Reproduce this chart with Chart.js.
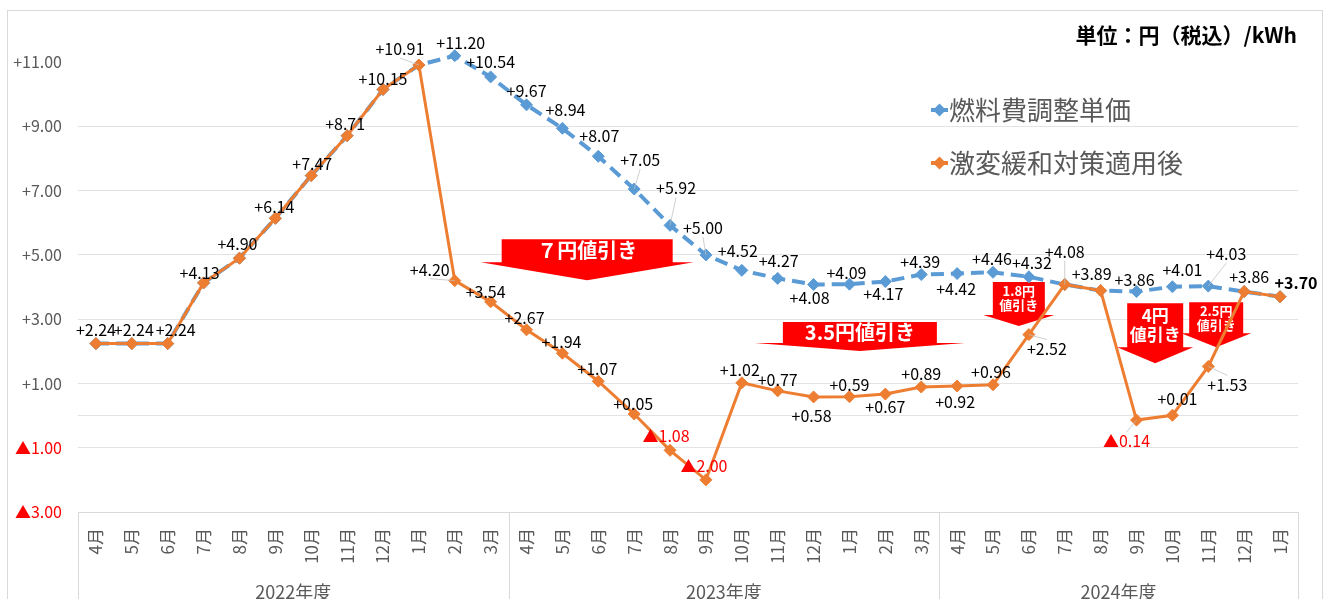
<!DOCTYPE html>
<html lang="ja">
<head>
<meta charset="utf-8">
<title>燃料費調整単価の推移</title>
<script src="https://cdn.jsdelivr.net/npm/chart.js@4.4.1/dist/chart.umd.min.js"></script>
<style>
  html, body { margin: 0; padding: 0; background: #fff; }
  #wrap { width: 1325px; height: 599px; overflow: hidden; }
</style>
</head>
<body>
<div id="wrap"><canvas id="fuelChart" width="1325" height="599"></canvas></div>
<script>
const months = ['4月', '5月', '6月', '7月', '8月', '9月', '10月', '11月', '12月', '1月', '2月', '3月',
  '4月', '5月', '6月', '7月', '8月', '9月', '10月', '11月', '12月', '1月', '2月', '3月',
  '4月', '5月', '6月', '7月', '8月', '9月', '10月', '11月', '12月', '1月'];
const fiscalYears = ['2022年度', '2023年度', '2024年度'];
const monthsPerYear = [12, 12, 10];

// 燃料費調整単価
const fuelAdjust = [2.24, 2.24, 2.24, 4.13, 4.90, 6.14, 7.47, 8.71, 10.15, 10.91, 11.20, 10.54,
  9.67, 8.94, 8.07, 7.05, 5.92, 5.00, 4.52, 4.27, 4.08, 4.09, 4.17, 4.39,
  4.42, 4.46, 4.32, 4.08, 3.89, 3.86, 4.01, 4.03, 3.86, 3.70];
// 激変緩和対策適用後
const afterRelief = [2.24, 2.24, 2.24, 4.13, 4.90, 6.14, 7.47, 8.71, 10.15, 10.91, 4.20, 3.54,
  2.67, 1.94, 1.07, 0.05, -1.08, -2.00, 1.02, 0.77, 0.58, 0.59, 0.67, 0.89,
  0.92, 0.96, 2.52, 4.08, 3.89, -0.14, 0.01, 1.53, 3.86, 3.70];

const yGridValues = [-3, -1, 0, 1, 3, 5, 7, 9, 11];
const yLabelValues = [-3, -1, 1, 3, 5, 7, 9, 11];

const seriesNames = ['燃料費調整単価', '激変緩和対策適用後'];
const unitText = '単位：円（税込）/kWh';

// 値引きの矢印 (横位置は月の番号、上端は軸の値)
const discounts = [
  { lines: ['７円値引き'], at: 13.69, top: 5.49, body: [171, 23], head: [213, 18], size: 20 },
  { lines: ['3.5円値引き'], at: 21.29, top: 2.91, body: [154, 21], head: [210, 8], size: 20 },
  { lines: ['1.8円', '値引き'], at: 25.72, top: 4.16, body: [52, 33], head: [71, 11], size: 13 },
  { lines: ['4円', '値引き'], at: 29.52, top: 3.50, body: [56, 44], head: [76, 16], size: 17 },
  { lines: ['2.5円', '値引き'], at: 31.22, top: 3.53, body: [54, 31], head: [70, 14], size: 13 }
];

// ラベルのずらし量 [dx, dy]
const fuelLabelShift = [null, null, null, null, null, null, null, null, null, null,
  [6, -13], [0, -15], [0, -14], [3, -18], [1, -20], [6, -29], [6, -37], [-3, -27],
  [-4, -19], [1, -17], [-4, 13], [-3, -11], [-2, 12], [-1, -13], [-1, 15], [-1, -13],
  [3, -14], null, null, [-2, -12], [10, -17], [18, -32], null, null];
const reliefLabelShift = [[0, -14], [2, -14], [8, -14], [-4, -10], [-2, -14], [-1, -11],
  [1, -12], [-2, -12], [0, -11], [-19, -16], [-25, -11], [-5, -10], [-2, -12], [-1, -11],
  [-1, -12], [-1, -10], [-4, -14], [-2, -14], [-2, -13], [0, -11], [-2, 19], [0, -12],
  [0, 13], [0, -13], [-2, 16], [-2, -13], [18, 14], [0, -33], [-9, -17], [-10, 21],
  [5, -16], [19, 18], [5, -15], [16, -14]];

const FONT = '"Noto Sans CJK JP", "Noto Sans", sans-serif';
const BLUE = '#5B9BD5';
const ORANGE = '#ED7D31';
const RED = '#FF0000';
const GRAY = '#595959';

Chart.defaults.font.family = FONT;

const fmt = v => (v < 0 ? '▲' : '+') + Math.abs(v).toFixed(2);

function diamond(ctx, x, y, r, color) {
  ctx.fillStyle = color;
  ctx.beginPath();
  ctx.moveTo(x, y - r);
  ctx.lineTo(x + r, y);
  ctx.lineTo(x, y + r);
  ctx.lineTo(x - r, y);
  ctx.closePath();
  ctx.fill();
}

const frame = {
  id: 'frame',
  beforeDraw(chart) {
    const { ctx } = chart;
    ctx.save();
    ctx.strokeStyle = '#D9D9D9';
    ctx.lineWidth = 1;
    ctx.strokeRect(7.5, 10.5, 1315, 620);
    ctx.restore();
  }
};

const discountArrows = {
  id: 'discountArrows',
  beforeDatasetsDraw(chart) {
    const { ctx, scales: { x, y } } = chart;
    ctx.save();
    discounts.forEach(d => {
      const cx = x.getPixelForValue(d.at);
      const top = y.getPixelForValue(d.top);
      const [bw, bh] = d.body;
      const [hw, hh] = d.head;
      ctx.fillStyle = RED;
      ctx.beginPath();
      ctx.moveTo(cx - bw / 2, top);
      ctx.lineTo(cx + bw / 2, top);
      ctx.lineTo(cx + bw / 2, top + bh);
      ctx.lineTo(cx + hw / 2, top + bh);
      ctx.lineTo(cx, top + bh + hh);
      ctx.lineTo(cx - hw / 2, top + bh);
      ctx.lineTo(cx - bw / 2, top + bh);
      ctx.closePath();
      ctx.fill();
      ctx.fillStyle = '#fff';
      ctx.font = 'bold ' + d.size + 'px ' + FONT;
      ctx.textAlign = 'center';
      ctx.textBaseline = 'middle';
      const lh = d.size * 1.08;
      const startY = top + bh / 2 - (d.lines.length - 1) * lh / 2;
      d.lines.forEach((t, i) => ctx.fillText(t, cx, startY + i * lh));
    });
    ctx.restore();
  }
};

const pointLabels = {
  id: 'pointLabels',
  afterDatasetsDraw(chart) {
    const { ctx } = chart;
    ctx.save();
    ctx.textAlign = 'center';
    ctx.textBaseline = 'middle';
    [[0, fuelAdjust, fuelLabelShift], [1, afterRelief, reliefLabelShift]].forEach(([di, values, shifts]) => {
      const pts = chart.getDatasetMeta(di).data;
      values.forEach((v, i) => {
        const s = shifts[i];
        if (!s) return;
        const px = pts[i].x, py = pts[i].y;
        const lx = px + s[0], ly = py + s[1];
        if (Math.hypot(s[0], s[1]) > 22) {
          ctx.strokeStyle = '#BFBFBF';
          ctx.lineWidth = 0.75;
          ctx.beginPath();
          ctx.moveTo(px, py);
          ctx.lineTo(lx, ly + (s[1] < 0 ? 9 : -9));
          ctx.stroke();
        }
        const last = i === values.length - 1;
        ctx.font = (last ? 'bold ' : '') + '16px ' + FONT;
        ctx.fillStyle = v < 0 ? RED : '#000';
        ctx.fillText(fmt(v), lx, ly);
      });
    });
    ctx.restore();
  }
};

const yearGroups = {
  id: 'yearGroups',
  afterDraw(chart) {
    const { ctx, chartArea, scales: { x } } = chart;
    ctx.save();
    ctx.strokeStyle = '#D9D9D9';
    ctx.lineWidth = 1;
    ctx.fillStyle = GRAY;
    ctx.font = '18px ' + FONT;
    ctx.textAlign = 'center';
    ctx.textBaseline = 'alphabetic';
    const edges = [chartArea.left];
    let start = 0;
    fiscalYears.forEach((label, g) => {
      const end = start + monthsPerYear[g] - 1;
      const left = g === 0 ? chartArea.left : (x.getPixelForValue(start - 1) + x.getPixelForValue(start)) / 2;
      const right = g === fiscalYears.length - 1 ? chartArea.right : (x.getPixelForValue(end) + x.getPixelForValue(end + 1)) / 2;
      edges.push(right);
      ctx.fillText(label, (left + right) / 2, 599);
      start = end + 1;
    });
    edges.forEach(ex => {
      const xx = Math.round(ex) + 0.5;
      ctx.beginPath();
      ctx.moveTo(xx, chartArea.bottom);
      ctx.lineTo(xx, 599);
      ctx.stroke();
    });
    ctx.restore();
  }
};

const legendAndUnit = {
  id: 'legendAndUnit',
  afterDraw(chart) {
    const { ctx } = chart;
    ctx.save();
    ctx.fillStyle = '#000';
    ctx.font = 'bold 21px ' + FONT;
    ctx.textAlign = 'right';
    ctx.textBaseline = 'middle';
    ctx.fillText(unitText, 1297, 35);

    [[BLUE, 110], [ORANGE, 163]].forEach(([color, ly], i) => {
      ctx.strokeStyle = color;
      ctx.lineWidth = 4;
      ctx.beginPath();
      ctx.moveTo(931, ly);
      ctx.lineTo(948, ly);
      ctx.stroke();
      diamond(ctx, 939.5, ly, 6.5, color);
      ctx.fillStyle = GRAY;
      ctx.font = '26px ' + FONT;
      ctx.textAlign = 'left';
      ctx.fillText(seriesNames[i], 949, ly);
    });
    ctx.restore();
  }
};

new Chart(document.getElementById('fuelChart'), {
  type: 'line',
  data: {
    labels: months,
    datasets: [{
      label: seriesNames[0],
      data: fuelAdjust,
      borderColor: BLUE,
      backgroundColor: BLUE,
      borderWidth: 4,
      borderDash: [13, 7],
      pointStyle: 'rectRot',
      pointRadius: 6,
      pointBorderWidth: 1,
      pointBorderColor: BLUE,
      pointBackgroundColor: BLUE,
      tension: 0,
      order: 2
    }, {
      label: seriesNames[1],
      data: afterRelief,
      borderColor: ORANGE,
      backgroundColor: ORANGE,
      borderWidth: 3,
      pointStyle: 'rectRot',
      pointRadius: 6,
      pointBorderWidth: 1,
      pointBorderColor: ORANGE,
      pointBackgroundColor: ORANGE,
      tension: 0,
      order: 1
    }]
  },
  options: {
    responsive: false,
    animation: false,
    layout: { padding: { top: 30, right: 27, left: 0, bottom: 0 } },
    plugins: {
      legend: { display: false },
      tooltip: { enabled: false }
    },
    scales: {
      x: {
        offset: true,
        grid: { display: false, drawTicks: false },
        border: { display: true, color: '#D9D9D9' },
        ticks: {
          autoSkip: false,
          minRotation: 90,
          maxRotation: 90,
          padding: 16,
          color: GRAY,
          font: { size: 17, family: FONT }
        },
        afterFit(scale) { scale.height = 87; }
      },
      y: {
        min: -3,
        max: 12,
        afterBuildTicks(scale) { scale.ticks = yGridValues.map(v => ({ value: v })); },
        grid: {
          drawTicks: false,
          color: c => (c.tick && (c.tick.value === 11 || c.tick.value === -3)) ? 'rgba(0,0,0,0)' : '#E3E3E3'
        },
        border: { display: false },
        ticks: {
          autoSkip: false,
          padding: 16,
          font: { size: 16, family: FONT },
          color: c => c.tick.value < 0 ? RED : GRAY,
          callback: v => yLabelValues.includes(v) ? fmt(v) : ''
        },
        afterFit(scale) { scale.width = 78; }
      }
    }
  },
  plugins: [frame, discountArrows, pointLabels, yearGroups, legendAndUnit]
});
</script>
</body>
</html>
